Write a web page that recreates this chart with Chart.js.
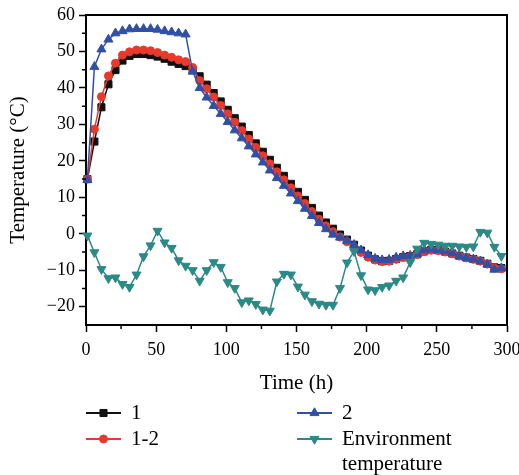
<!DOCTYPE html>
<html>
<head>
<meta charset="utf-8">
<script src="https://cdn.jsdelivr.net/npm/chart.js@4.4.1/dist/chart.umd.min.js"></script>
<style>
    html, body { margin: 0; padding: 0; background: #fff; }
    #wrap { width: 519px; height: 475px; }
</style>
</head>
<body>
<div id="wrap"><canvas id="tempChart" width="519" height="475"></canvas></div>
<script>
// Temperature readings, one every 5 h

const hours = [1, 6, 11, 16, 21, 26, 31, 36, 41, 46, 51, 56, 61, 66, 71, 76, 81, 86, 91, 96,
    101, 106, 111, 116, 121, 126, 131, 136, 141, 146, 151, 156, 161, 166, 171, 176, 181, 186, 191, 196,
    201, 206, 211, 216, 221, 226, 231, 236, 241, 246, 251, 256, 261, 266, 271, 276, 281, 286, 291, 296];

const seriesNames = ['1', '1-2', '2', 'Environment temperature'];

const temp1 = [15, 25.3, 34.7, 41, 44.9, 47.5, 48.8, 49.3, 49.3, 49, 48.6, 48, 47.2, 46.6, 46, 45, 43.2, 40.9, 38.6, 36.3,
    34, 31.7, 29.4, 27.1, 24.8, 22.5, 20.3, 18.1, 15.9, 13.7, 11.5, 9.3, 7.1, 5, 3.1, 1.4, -0.2, -1.6, -3, -4.6,
    -6, -7, -7.5, -7.4, -6.9, -6.4, -6.1, -5.6, -4.8, -4.4, -4.5, -4.9, -5.4, -6, -6.5, -6.9, -7.4, -8.2, -9.2, -9.4];

const temp12 = [15, 28.7, 37.6, 43.3, 46.8, 49, 49.9, 50.4, 50.4, 50.2, 49.7, 49, 48.4, 47.7, 47.2, 45.6, 42, 39.8, 37.5, 35.2,
    32.9, 30.6, 28.3, 26, 23.7, 21.4, 19.2, 17, 14.8, 12.6, 10.4, 8.3, 6.1, 4, 2.2, 0.6, -0.9, -2.2, -3.6, -5.1,
    -6.4, -7.2, -7.6, -7.5, -7, -6.5, -6.2, -5.7, -4.9, -4.5, -4.6, -5, -5.5, -6.1, -6.6, -7, -7.5, -8.3, -9.4, -9.6];

const temp2 = [14.8, 45.8, 50.6, 53.3, 55, 55.6, 56.1, 56.2, 56.2, 56.2, 56, 55.6, 55.3, 55, 54.7, 44.5, 40, 37.4, 35.1, 32.9,
    30.7, 28.4, 26.2, 24, 21.8, 19.6, 17.4, 15.3, 13.2, 11.1, 9, 6.9, 4.9, 3, 1.3, -0.2, -1, -1.9, -3, -4.5,
    -5.8, -6.8, -7.2, -7.1, -6.5, -6.1, -6, -5.5, -4.5, -4.2, -4.4, -4.8, -5.3, -6.1, -6.6, -7, -7.5, -8.4, -9.8, -9.4];

const tempEnv = [-0.5, -5.1, -9.7, -12.2, -12, -13.8, -14.6, -11.2, -6.2, -3.2, 0.8, -2.4, -3.9, -7.3, -8.8, -10, -12.9, -10, -7.8, -9.1,
    -13.3, -14.9, -18.8, -18.3, -19.3, -20.8, -21.1, -13.1, -11, -11.2, -14.5, -16.7, -18.5, -19.2, -19.5, -19.5, -14.9, -7.9, -4.8, -11.4,
    -15.3, -15.5, -14.6, -14.2, -12.9, -12, -7.8, -4.1, -2.5, -2.8, -3, -3.3, -3.3, -3.5, -3.6, -3.5, 0.5, 0.3, -3.6, -6.1];

const yTicks = [-20, -10, 0, 10, 20, 30, 40, 50, 60];
const yMinorTicks = [-15, -5, 5, 15, 25, 35, 45, 55];
const xMinorTicks = [25, 75, 125, 175, 225, 275];

const serif = '"Liberation Serif", "DejaVu Serif", serif';
Chart.defaults.font.family = serif;
Chart.defaults.color = '#000';

function toPoints(values) {
    return values.map((v, i) => ({ x: hours[i], y: v }));
}

function makeSet(label, values, color, style, radius, order, rotation) {
    return {
        label: label,
        data: toPoints(values),
        borderColor: color,
        backgroundColor: color,
        borderWidth: 1.5,
        pointStyle: style,
        pointRadius: radius,
        pointRotation: rotation || 0,
        pointBorderWidth: 1,
        pointBackgroundColor: color,
        pointBorderColor: color,
        tension: 0,
        order: order,
        clip: false
    };
}

// Box frame and minor ticks
const framePlugin = {
    id: 'frame',
    afterDraw(chart) {
        const { ctx, chartArea: a, scales: { x, y } } = chart;
        ctx.save();
        ctx.strokeStyle = '#000';
        ctx.lineWidth = 2;
        ctx.beginPath();
        ctx.moveTo(a.left, a.top);
        ctx.lineTo(a.right, a.top);
        ctx.lineTo(a.right, a.bottom);
        ctx.stroke();

        ctx.lineWidth = 1.5;
        ctx.beginPath();
        yMinorTicks.forEach(v => {
            const py = y.getPixelForValue(v);
            ctx.moveTo(a.left - 4, py);
            ctx.lineTo(a.left, py);
        });
        xMinorTicks.forEach(v => {
            const px = x.getPixelForValue(v);
            ctx.moveTo(px, a.bottom);
            ctx.lineTo(px, a.bottom + 4);
        });
        ctx.stroke();
        ctx.restore();
    }
};

// Two-column legend under the plot
const legendPlugin = {
    id: 'legendBelow',
    afterDraw(chart) {
        const ctx = chart.ctx;
        const spots = [[86, 413], [86, 439], [297, 413], [297, 439]];
        ctx.save();
        ctx.font = '21px ' + serif;
        ctx.textBaseline = 'middle';
        chart.data.datasets.forEach((ds, i) => {
            const [lx, ly] = spots[i];
            ctx.strokeStyle = ds.borderColor;
            ctx.lineWidth = 1.8;
            ctx.beginPath();
            ctx.moveTo(lx, ly);
            ctx.lineTo(lx + 35, ly);
            ctx.stroke();
            ctx.fillStyle = ds.borderColor;
            ctx.lineWidth = 1;
            Chart.helpers.drawPoint(ctx, {
                pointStyle: ds.pointStyle,
                radius: ds.pointRadius,
                rotation: ds.pointRotation,
                borderWidth: 1
            }, lx + 17.5, ly);
            ctx.fillStyle = '#000';
            const words = i === 3 ? ['Environment', 'temperature'] : [ds.label];
            words.forEach((w, j) => ctx.fillText(w, lx + 45, ly + j * 25));
        });
        ctx.restore();
    }
};

const tempChart = new Chart(document.getElementById('tempChart'), {
    type: 'line',
    data: {
        datasets: [
            makeSet(seriesNames[0], temp1, '#111111', 'rect', 5, 3),
            makeSet(seriesNames[1], temp12, '#e8392c', 'circle', 4, 2),
            makeSet(seriesNames[2], temp2, '#3050a8', 'triangle', 5.2, 1),
            makeSet(seriesNames[3], tempEnv, '#2b8a86', 'triangle', 5.2, 0, 180)
        ]
    },
    options: {
        responsive: false,
        animation: false,
        layout: {
            padding: { left: 6, right: 12, top: 15, bottom: 79 }
        },
        plugins: {
            legend: { display: false },
            tooltip: { enabled: false }
        },
        scales: {
            x: {
                type: 'linear',
                min: 0,
                max: 300,
                afterFit: s => {
                    s.height = 71;
                    s.paddingLeft = 0;
                    s.paddingRight = 0;
                },
                ticks: {
                    stepSize: 50,
                    padding: 7,
                    maxRotation: 0,
                    font: { size: 18 }
                },
                grid: {
                    display: true,
                    drawOnChartArea: false,
                    drawTicks: true,
                    tickLength: 7,
                    tickWidth: 1.5,
                    tickColor: '#000'
                },
                border: { display: true, color: '#000', width: 2 },
                title: {
                    display: true,
                    text: 'Time (h)',
                    padding: 0,
                    font: { size: 21 }
                }
            },
            y: {
                min: -25,
                max: 60,
                afterFit: s => {
                    s.width = 80;
                    s.paddingTop = 0;
                    s.paddingBottom = 0;
                },
                afterBuildTicks: s => { s.ticks = yTicks.map(v => ({ value: v })); },
                ticks: {
                    padding: 4,
                    font: { size: 18 },
                    callback: v => String(v).replace('-', '\u2212')
                },
                grid: {
                    display: true,
                    drawOnChartArea: false,
                    drawTicks: true,
                    tickLength: 7,
                    tickWidth: 1.5,
                    tickColor: '#000'
                },
                border: { display: true, color: '#000', width: 2 },
                title: {
                    display: true,
                    text: 'Temperature (°C)',
                    padding: 0,
                    font: { size: 21 }
                }
            }
        }
    },
    plugins: [framePlugin, legendPlugin]
});
</script>
</body>
</html>
